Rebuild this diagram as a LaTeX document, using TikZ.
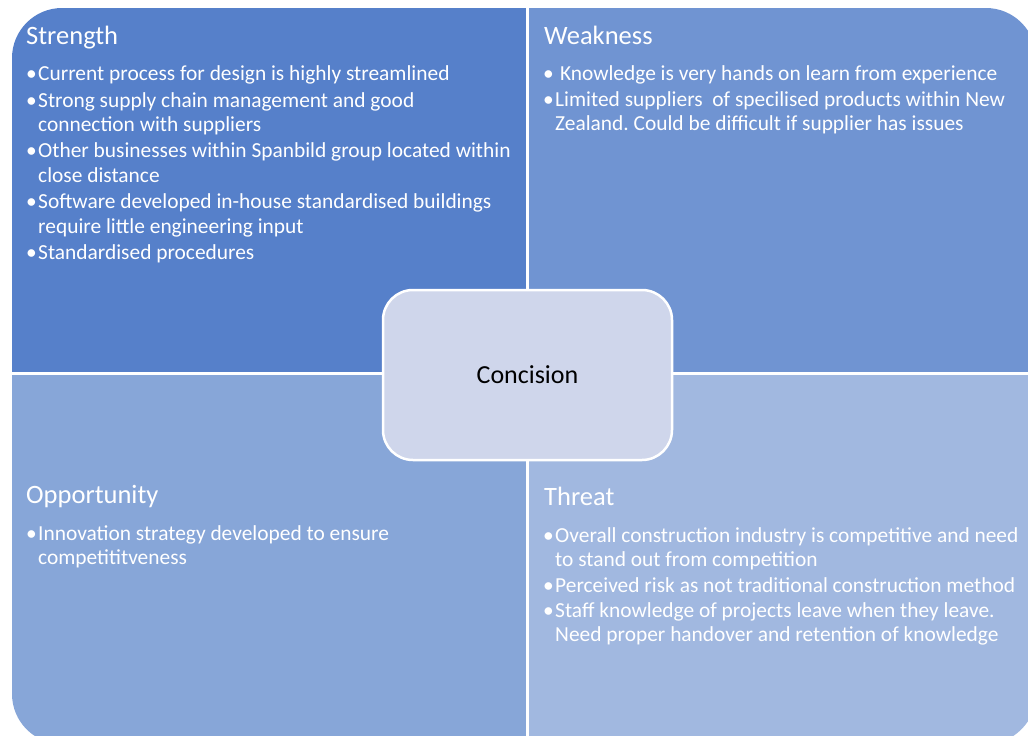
\documentclass[tikz,border=0pt]{standalone}
\usepackage{fontspec}
\setmainfont{Carlito}
\usepackage{tikz}
\definecolor{SWStrength}{HTML}{5680CA}
\definecolor{SWWeak}{HTML}{7094D2}
\definecolor{SWOpp}{HTML}{87A6D8}
\definecolor{SWThreat}{HTML}{A1B8E0}
\definecolor{SWCentre}{HTML}{CFD6EB}
\newcommand{\bul}{\llap{\textbullet\hspace{1.5pt}}}
\frenchspacing

\begin{document}
\begin{tikzpicture}[x=1pt,y=-1pt,
  quadtitle/.style={anchor=base west,inner sep=0pt,text=white,font=\fontsize{26.5}{30}\selectfont},
  swotitem/.style={anchor=base west,inner sep=0pt,align=left,text=white,font=\fontsize{21.4}{24.5}\selectfont},
  concbox/.style={draw=white,line width=2.5pt,fill=SWCentre,rounded corners=30pt,
    minimum width=289pt,minimum height=170pt,font=\fontsize{26}{30}\selectfont}]
\useasboundingbox (0,0) rectangle (1028,736);
\begin{scope}
\clip[rounded corners=50pt] (12,8) rectangle (1036,744);
\fill[SWStrength] (12,8) rectangle (526,372);
\fill[SWWeak] (529,8) rectangle (1036,372);
\fill[SWOpp] (12,375) rectangle (526,744);
\fill[SWThreat] (529,375) rectangle (1036,744);
\end{scope}
% strength (base = last line)
\node[quadtitle] (strength) at (26,44) {Strength};
\node[swotitem] (s1) at (38,80) {\bul Current process for design is highly streamlined};
\node[swotitem] (s2) at (38,131.5) {\bul Strong supply chain management and good\\connection with suppliers};
\node[swotitem] (s3) at (38,182) {\bul Other businesses within Spanbild group located within\\close distance};
\node[swotitem] (s4) at (38,233) {\bul Software developed in-house standardised buildings\\require little engineering input};
\node[swotitem] (s5) at (38,259) {\bul Standardised procedures};
% weakness
\node[quadtitle] (weakness) at (544,44) {Weakness};
\node[swotitem] (w1) at (555,80) {\bul\ Knowledge is very hands on learn from experience};
\node[swotitem] (w2) at (555,130.5) {\bul Limited suppliers\ \ of specilised products within New\\Zealand. Could be difficult if supplier has issues};
% opportunity
\node[quadtitle] (opportunity) at (26,503) {Opportunity};
\node[swotitem] (o1) at (38,564.5) {\bul Innovation strategy developed to ensure\\competititveness};
% threat
\node[quadtitle] (threat) at (544,505) {Threat};
\node[swotitem] (t1) at (555,566.5) {\bul Overall construction industry is competitive and need\\to stand out from competition};
\node[swotitem] (t2) at (555,592) {\bul Perceived risk as not traditional construction method};
\node[swotitem] (t3) at (555,641.5) {\bul Staff knowledge of projects leave when they leave.\\Need proper handover and retention of knowledge};
% centre
\node[concbox] (concision) at (527.5,375) {Concision};
\end{tikzpicture}
\end{document}
